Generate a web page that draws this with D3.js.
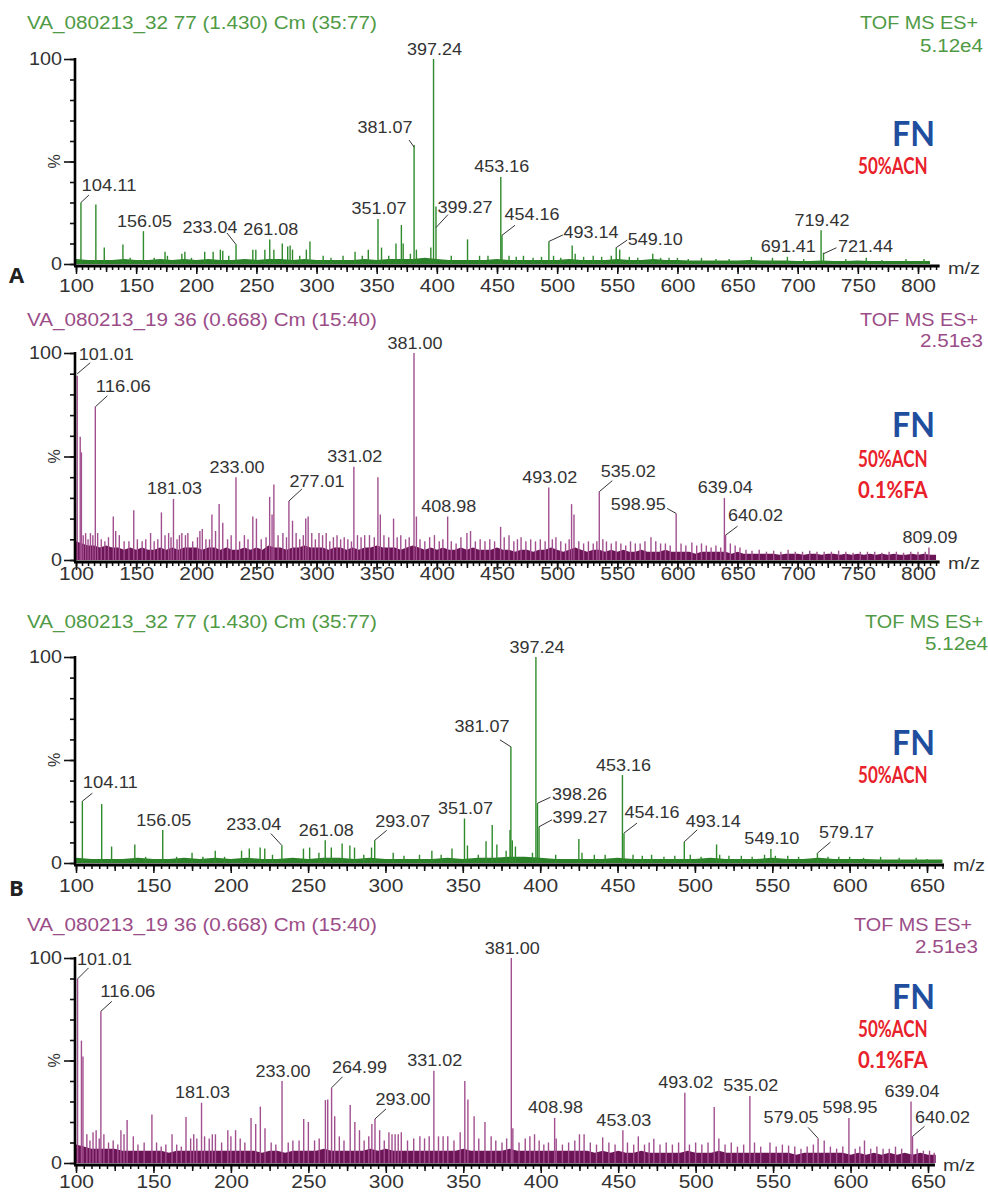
<!DOCTYPE html>
<meta charset="utf-8">
<style>

body {
  margin: 0;
  background: #fff;
}

svg {
  display: block;
  font-family: "Liberation Sans", Arial, sans-serif;
}

.run-title, .scan, .bpi {
  font-size: 17.5px;
}

.peak-label {
  font-size: 16px;
  fill: #333;
}

.tick text {
  font-size: 18px;
  fill: #333;
}

.mz {
  font-size: 16px;
  fill: #333;
}

.sample {
  font-family: Lato, "Open Sans", sans-serif;
  font-weight: bold;
  font-size: 35px;
  fill: #1f4e9f;
}

.cond {
  font-family: Lato, "Open Sans", sans-serif;
  font-weight: bold;
  font-size: 22px;
  fill: #e8212b;
}

.part {
  font-family: "Open Sans", sans-serif;
  font-weight: bold;
  font-size: 22px;
  fill: #222;
}

</style>

<svg width="988" height="1192"></svg>
<script src="https://d3js.org/d3.v7.min.js"></script>
<script>

// ---- text ----
const runGreen = "VA_080213_32 77 (1.430) Cm (35:77)";
const runPurple = "VA_080213_19 36 (0.668) Cm (15:40)";
const scanMode = "TOF MS ES+";
const bpiGreen = "5.12e4";
const bpiPurple = "2.51e3";
const sampleName = "FN";
const condsGreen = ["50%ACN"];
const condsPurple = ["50%ACN", "0.1%FA"];

// ---- axes ----
const ticksA = [100, 150, 200, 250, 300, 350, 400, 450, 500, 550, 600, 650, 700, 750, 800];
const ticksB = [100, 150, 200, 250, 300, 350, 400, 450, 500, 550, 600, 650];
const yLabels = [0, 100];

// ---- labelled peaks: [m/z, %] ----
const peaksA1 = [
  [104.11, 30], [156.05, 16], [233.04, 9.5], [261.08, 12], [351.07, 22], [381.07, 58],
  [397.24, 100], [399.27, 28], [453.16, 42.5], [454.16, 14], [493.14, 11], [549.10, 8],
  [691.41, 3.5], [719.42, 16.5], [721.44, 5.5]
];
const peaksA2 = [
  [101.01, 89], [116.06, 74], [181.03, 29.5], [233.00, 40], [277.01, 28.5], [331.02, 45],
  [381.00, 100], [408.98, 21], [493.02, 35], [535.02, 33], [598.95, 22.5], [639.04, 30],
  [640.02, 12], [809.09, 6]
];
const peaksB1 = [
  [104.11, 30], [156.05, 16], [233.04, 8.5], [261.08, 11], [293.07, 11], [351.07, 21.6],
  [381.07, 56.4], [397.24, 100], [398.26, 29], [399.27, 17.6], [453.16, 42.7], [454.16, 14.5],
  [493.14, 10.3], [549.10, 6.8], [579.17, 4.8]
];
const peaksB2 = [
  [101.01, 89.8], [116.06, 74], [181.03, 29.4], [233.00, 40], [264.99, 36.7], [293.00, 21.5],
  [331.02, 45], [381.00, 100], [408.98, 22], [453.03, 16], [493.02, 34.3], [535.02, 32.7],
  [579.05, 12], [598.95, 22], [639.04, 30], [640.02, 13]
];

// ---- unlabelled peaks: [m/z, %] ----
const minorA1 = [
  [116.5, 29], [123.5, 8], [139, 9.5], [145, 3], [165, 3], [174, 6], [176, 4], [188, 5], [190.5, 6],
  [196, 3], [207, 6], [214, 6], [220, 7], [222, 6.5], [227, 4], [247, 7], [249.5, 7], [257, 7],
  [264.5, 7], [271.5, 10], [276, 8.5], [278, 9], [280, 7], [286, 4], [291.5, 7], [294.5, 11],
  [305.5, 4], [312, 3], [322, 4], [332, 6], [338, 4], [343, 7], [354, 8], [360, 4], [366, 10],
  [370.5, 19], [372, 10], [378, 5], [383, 7], [395, 8], [412, 4], [425.5, 12], [435.5, 4],
  [442.5, 4], [460, 4], [466, 3.5], [472, 4], [480, 3], [487, 3.5], [497, 4], [503, 3],
  [512.5, 9], [515, 5], [522, 3.5], [530, 4], [537, 3.5], [545, 4], [552, 7], [560, 3.5],
  [567, 3], [579.5, 5], [586, 3], [593, 3], [600, 3], [609, 2.5], [620, 3], [632, 2.5],
  [643, 2.5], [661.5, 3.5], [679, 3], [705, 2.5], [740, 2.5], [757, 3], [770, 2], [790, 2.5], [805, 2.5]
];
const minorA2 = [
  [103.5, 59.5], [104.5, 52], [106, 12], [108, 13], [110, 10], [112, 13], [114, 12], [118, 13],
  [121, 10], [124, 9], [127, 11], [131, 21], [133, 14], [136, 12], [140, 9], [144, 9], [148, 24],
  [151, 10], [155, 9], [158, 10], [162, 13], [165, 9], [168, 10], [171, 23], [174, 12], [177, 13],
  [179, 11], [184, 10], [186, 12], [188, 13], [191, 12], [193, 13], [197, 9], [201, 11], [203, 14],
  [205, 15], [208, 10], [211, 10], [213, 22], [216, 14], [219, 27], [222, 18], [226, 10], [229, 12],
  [236, 9], [240, 12], [243, 10], [247, 21], [250, 20], [254, 10], [258, 11], [261, 30.5], [263, 22],
  [264.5, 36.5], [268, 12], [272, 13], [275, 11], [280, 19], [283, 13], [286, 10], [289, 12],
  [291, 20], [293, 21], [296, 13], [299, 10], [302, 13], [305, 12], [308, 13], [311, 9], [314, 11],
  [317, 12], [320, 10], [323, 11], [326, 10], [329, 9], [334, 12], [337, 11], [340, 12], [344, 12],
  [348, 11], [351, 40], [353, 22], [356, 12], [360, 11], [364, 20], [367, 11], [370, 12], [374, 10],
  [377, 11], [383, 21], [386, 10], [390, 9], [394, 11], [398, 12], [402, 9], [405, 10], [412, 9],
  [416, 8], [420, 11], [425, 13], [428, 14], [432, 9], [436, 10], [440, 9], [444, 10], [448, 9],
  [453, 16], [456, 11], [460, 12], [464, 9], [467, 10], [470, 11], [474, 9], [478, 10], [482, 9],
  [486, 10], [490, 9], [496, 10], [499, 11], [503, 9], [507, 8], [510, 10], [512, 27], [514, 22],
  [518, 9], [522, 8], [526, 9], [530, 8], [533, 9], [538, 10], [541, 9], [545, 8], [549, 9],
  [553, 8], [557, 7], [561, 9], [565, 8], [569, 8], [573, 9], [578, 11], [582, 9], [586, 8],
  [590, 8], [594, 7], [603, 8], [607, 7], [612, 8.5], [616, 7], [620, 8], [624, 7], [628, 6],
  [632, 7], [636, 6], [644, 8], [648, 7], [652, 6], [657, 5], [662, 4.5], [668, 5], [674, 4],
  [680, 4.5], [686, 4], [692, 5], [698, 4], [704, 4], [710, 4.5], [716, 4], [722, 4], [728, 4],
  [734, 4.5], [740, 4], [746, 3.5], [752, 4], [758, 4], [764, 4], [770, 3.5], [776, 4], [782, 4],
  [788, 3.5], [794, 4], [800, 4], [806, 4]
];
const minorB1 = [
  [116.6, 28.6], [123, 8], [138, 9], [145, 3], [165, 3], [175, 5], [182, 3], [190, 6], [196, 3],
  [207, 6], [212, 7], [219, 7.5], [222, 7], [227, 4], [247, 7], [251, 7.5], [257, 5], [265, 7.5],
  [272, 9.5], [277, 8.5], [280, 7.5], [286, 4], [291, 7.5], [305, 5], [312, 3.5], [322, 4], [330, 6],
  [336, 4], [343, 7], [353, 8.5], [360, 4], [365, 10.5], [369, 18.5], [372, 9], [378, 6], [380.5, 16],
  [382, 11], [384, 8], [395, 5], [410, 4], [425, 11.6], [427, 5], [435, 4], [442, 4], [460, 4],
  [466, 3.5], [472, 4], [480, 3], [487, 3.5], [497, 4], [504, 3], [514, 9], [516, 4], [522, 3.5],
  [530, 3.5], [537, 3], [545, 4], [552, 3.5], [560, 3.5], [567, 3], [586, 3], [593, 3], [600, 3],
  [609, 2.5], [620, 3], [632, 2.5], [643, 2.5], [650, 2]
];
const minorB2 = [
  [103.5, 59.7], [104.5, 52], [107, 14], [109, 11], [111, 15], [113, 16], [115, 12], [118, 14],
  [121, 10], [124, 11], [127, 9], [129, 16], [131, 14], [133, 21], [137, 13], [140, 9], [144, 10],
  [149, 23.7], [152, 10], [155, 8], [158, 9], [162, 14], [165, 9], [168, 8], [171, 22.4], [174, 12],
  [176, 14], [178, 12], [183, 13], [186, 12], [188, 14], [190, 14], [194, 10], [198, 16], [200, 13],
  [203, 16], [206, 12], [209, 10], [213, 22], [216, 19], [219, 27.5], [222, 17], [226, 10], [229, 9],
  [237, 10], [240, 11], [244, 11], [247, 21.5], [250, 20], [254, 11], [257, 12], [261, 30.7],
  [262.5, 31], [267, 22.8], [270, 13], [273, 11], [277, 28.3], [280, 20], [283, 16], [286, 11],
  [289, 13], [291, 19], [296, 16], [299, 11], [302, 15], [304, 14], [306, 14], [308, 14], [310, 15],
  [314, 11], [318, 12], [322, 13], [325, 12], [328, 13], [334, 13], [337, 13], [340, 13], [344, 11],
  [348, 15], [351, 40], [353, 31], [357, 22.8], [360, 12], [364, 20], [368, 13], [371, 11], [375, 10],
  [378, 12], [382, 17], [386, 10], [390, 12], [393, 13], [396, 14], [399, 11], [402, 9], [405, 10],
  [410, 12], [414, 9], [418, 10], [422, 11], [425, 14], [428, 14], [432, 10], [436, 9], [440, 12.5],
  [444, 10], [448, 9], [456, 10], [460, 9], [463, 13], [467, 9], [470, 10], [473, 11.8], [477, 9],
  [481, 10], [485, 9], [489, 10], [496, 9], [500, 10], [504, 9], [508, 10], [512, 27.3], [515, 12],
  [519, 9], [523, 10], [527, 8], [531, 9], [538, 10], [542, 8], [548, 10], [552, 8], [556, 9],
  [560, 8.5], [564, 8], [568, 7], [572, 8], [576, 9], [583, 11], [587, 8], [591, 7], [595, 8],
  [603, 7], [606, 8], [609, 11], [613, 7], [617, 8], [621, 7], [625, 7], [629, 8], [633, 7],
  [643, 7], [647, 6], [651, 6], [654, 5]
];

// ---- noise floor, % (green: every 10 m/z, purple: every 5 m/z, from 100) ----
const floorA1 = [
  2.5, 2, 2, 2, 2.5, 2, 2, 2.5, 2, 2.5,
  2, 2.5, 2, 2, 2.5, 2, 2.5, 2.5, 2, 2.5,
  2, 2, 2, 2, 2.5, 2, 2.5, 2.5, 2.5, 3,
  2.5, 2, 2, 2, 2, 2.5, 2, 2, 2, 2,
  2, 2.5, 2, 2, 2, 2.5, 2, 2, 2.5, 2,
  2, 1.7, 1.7, 1.7, 1.7, 1.7, 2, 1.7, 1.7, 1.7,
  1.5, 1.5, 1.7, 1.5, 1.5, 1.7, 1.5, 1.5, 1.5, 1.5,
  1.5, 1.5
];
const floorA2 = [
  9, 8, 7, 7, 6, 7, 6, 6, 5, 6,
  5, 6, 5, 5, 6, 5, 6, 5, 6, 6,
  6, 5, 6, 6, 5, 6, 5, 5, 6, 5,
  6, 5, 7, 6, 6, 5, 6, 6, 7, 6,
  6, 6, 5, 6, 6, 5, 6, 5, 6, 6,
  7, 6, 6, 6, 5, 6, 7, 6, 5, 6,
  5, 6, 5, 5, 6, 5, 6, 5, 5, 5,
  6, 5, 5, 4, 5, 5, 4, 5, 5, 6,
  5, 4, 5, 6, 5, 4, 5, 5, 4, 5,
  4, 5, 4, 4, 5, 4, 4, 4, 5, 4,
  4, 4, 4, 3, 4, 4, 4, 4, 4, 3,
  4, 3, 3, 3, 3, 3, 3, 2.5, 3, 3,
  3, 2.5, 3, 3, 2.5, 3, 3, 2.5, 3, 2.5,
  3, 2.5, 3, 2.5, 3, 2.5, 3, 2.5, 2.5, 3,
  2.5, 3, 2.5, 2.5
];
const floorB1 = [
  2.5, 2, 2, 2, 2.5, 2, 2, 2.5, 2, 2.5,
  2, 2.5, 2, 2, 2.5, 2, 2.5, 2.5, 2, 2.5,
  2, 2, 2, 2, 2.5, 2, 2.5, 2.5, 3, 3,
  2.5, 2, 2, 2, 2, 2.5, 2, 2, 2, 2,
  2, 2.5, 2, 2, 2, 2.5, 2, 2, 2.5, 2,
  2, 2, 1.7, 1.7, 1.7, 1.7, 1.7
];
const floorB2 = [
  9, 8, 7, 7, 7, 7, 6, 6, 6, 6,
  6, 6, 5, 6, 6, 6, 6, 6, 6, 6,
  6, 6, 6, 6, 5, 6, 6, 5, 6, 6,
  6, 6, 7, 6, 6, 6, 6, 6, 7, 6,
  7, 6, 6, 6, 6, 6, 6, 6, 6, 6,
  7, 6, 6, 6, 6, 6, 7, 6, 6, 6,
  6, 6, 6, 6, 6, 6, 6, 5, 6, 5,
  6, 5, 5, 6, 5, 5, 5, 5, 5, 6,
  5, 5, 5, 6, 5, 5, 5, 5, 5, 5,
  5, 5, 5, 4, 5, 5, 5, 5, 5, 5,
  4, 5, 4, 5, 4, 5, 4, 5, 4, 5,
  4, 4
];

// ---- label placement (px from the peak top): [text dx, baseline dy, leader start dy, leader end dx, leader end dy] ----
const leadersA1 = {
  "104.11": [28, -12, 0, 8, -7.5], "233.04": [-26, -12, 0, -9, -11.5], "381.07": [-29, -12, 2, -5, -5],
  "399.27": [29, 6, 21, 12, 8], "454.16": [30, -15, 0, 13, -10], "493.14": [42, -3, 0, 14, -6.5],
  "549.10": [39, -3, 0, 11, -7.5], "721.44": [42, -1, 1, 13, -5]
};
const leadersA2 = {
  "101.01": [29, -16, -2, 13, -13], "116.06": [28, -15, 0, 12, -11], "277.01": [28, -14, 0, 13, -12],
  "535.02": [29, -15, 0, 13, -11], "598.95": [-38, -3, 0, -9, -5], "640.02": [30, -14, 0, 12, -9]
};
const leadersB1 = {
  "104.11": [28, -13, 0, 10, -8], "233.04": [-28, -15, 0, -11, -12], "293.07": [28, -13, 0, 12, -10],
  "381.07": [-29, -15, 0, -11, -7], "398.26": [42, -3, 0, 13, -6], "399.27": [41, -4, 0, 13, -7],
  "454.16": [28, -15, 0, 13, -10], "493.14": [29, -15, 0, 13, -12], "579.17": [29, -15, 0, 13, -11]
};
const leadersB2 = {
  "101.01": [27, -14, 0, 11, -11], "116.06": [27, -14, 0, 11, -10], "264.99": [28, -15, 0, 11, -11],
  "293.00": [28, -14, 0, 11, -10], "579.05": [-27, -15, 0, -10, -11], "640.02": [30, -13, 0, 12, -10]
};

const green = { text: "#4f9a45", line: "#2f8a2b", fill: "#2b8128" };
const purple = { text: "#9b4d88", line: "#a24f8f", fill: "#6b1456" };

const panels = [
  { run: runGreen, bpi: bpiGreen, conds: condsGreen, part: "A", col: green,
    peaks: peaksA1, minor: minorA1, floor: floorA1, floorStep: 10, leaders: leadersA1,
    ticks: ticksA, xRange: [76, 918], xEnd: 818, top: 59, base: 264,
    titleY: 29, bpiY: 52, scanRight: 978, bpiRight: 983, tickY: 292, mzX: 948, mzY: 274,
    fnY: 146, condY: [174], partY: 283 },
  { run: runPurple, bpi: bpiPurple, conds: condsPurple, part: null, col: purple,
    peaks: peaksA2, minor: minorA2, floor: floorA2, floorStep: 5, leaders: leadersA2,
    ticks: ticksA, xRange: [76, 918], xEnd: 818, top: 353, base: 560,
    titleY: 326, bpiY: 347, scanRight: 978, bpiRight: 983, tickY: 580, mzX: 948, mzY: 569,
    fnY: 437, condY: [467, 498] },
  { run: runGreen, bpi: bpiGreen, conds: condsGreen, part: "B", col: green,
    peaks: peaksB1, minor: minorB1, floor: floorB1, floorStep: 10, leaders: leadersB1,
    ticks: ticksB, xRange: [76, 927], xEnd: 661, top: 657, base: 863,
    titleY: 628, bpiY: 650, scanRight: 983, bpiRight: 988, tickY: 892, mzX: 953, mzY: 871,
    fnY: 755, condY: [783], partY: 896 },
  { run: runPurple, bpi: bpiPurple, conds: condsPurple, part: null, col: purple,
    peaks: peaksB2, minor: minorB2, floor: floorB2, floorStep: 5, leaders: leadersB2,
    ticks: ticksB, xRange: [76, 928], xEnd: 654.5, top: 958, base: 1163,
    titleY: 931, bpiY: 953, scanRight: 972, bpiRight: 978, tickY: 1188, mzX: 943, mzY: 1171,
    fnY: 1009, condY: [1037, 1068] }
];

const svg = d3.select("svg");
const fmt = d => d.toFixed(2);

function drawPanel(p) {
  const g = svg.append("g");
  const x = d3.scaleLinear()
    .domain([p.ticks[0], p.ticks[p.ticks.length - 1]])
    .range(p.xRange);
  const y = d3.scaleLinear().domain([0, 100]).range([p.base, p.top]);

  // header
  g.append("text").attr("class", "run-title")
    .attr("x", 27).attr("y", p.titleY)
    .attr("fill", p.col.text)
    .attr("textLength", 350).attr("lengthAdjust", "spacingAndGlyphs")
    .text(p.run);
  g.append("text").attr("class", "scan")
    .attr("x", p.scanRight).attr("y", p.titleY)
    .attr("text-anchor", "end").attr("fill", p.col.text)
    .attr("textLength", 118).attr("lengthAdjust", "spacingAndGlyphs")
    .text(scanMode);
  g.append("text").attr("class", "bpi")
    .attr("x", p.bpiRight).attr("y", p.bpiY)
    .attr("text-anchor", "end").attr("fill", p.col.text)
    .attr("textLength", 63).attr("lengthAdjust", "spacingAndGlyphs")
    .text(p.bpi);

  // noise floor
  const floorPts = p.floor.map((v, i) => [p.ticks[0] + i * p.floorStep, v]);
  g.append("path")
    .datum(floorPts)
    .attr("fill", p.col.fill)
    .attr("d", d3.area()
      .x(d => x(d[0]))
      .y0(y(0))
      .y1(d => y(d[1])));

  // peaks
  const sticks = p.minor.concat(p.peaks);
  g.append("g")
    .selectAll("line")
    .data(sticks)
    .join("line")
      .attr("x1", d => x(d[0]))
      .attr("x2", d => x(d[0]))
      .attr("y1", y(0))
      .attr("y2", d => y(d[1]))
      .attr("stroke", p.col.line)
      .attr("stroke-width", 1.4);

  // peak labels
  const lab = g.append("g");
  p.peaks.forEach(d => {
    const txt = fmt(d[0]);
    const px = x(d[0]), pt = y(d[1]);
    const L = p.leaders[txt];
    if (L) {
      lab.append("line")
        .attr("x1", px).attr("y1", pt + L[2])
        .attr("x2", px + L[3]).attr("y2", pt + L[4])
        .attr("stroke", "#333").attr("stroke-width", 1);
    }
    lab.append("text").attr("class", "peak-label")
      .attr("x", px + (L ? L[0] : 1))
      .attr("y", pt + (L ? L[1] : -4.5))
      .attr("text-anchor", "middle")
      .attr("textLength", 55).attr("lengthAdjust", "spacingAndGlyphs")
      .text(txt);
  });

  // y axis
  const ya = g.append("g").attr("transform", "translate(75,0)");
  ya.append("g")
    .call(d3.axisLeft(y).tickValues(d3.range(0, 101, 10)).tickSize(5).tickFormat(""))
    .call(s => s.select(".domain").remove());
  ya.append("g")
    .call(d3.axisLeft(y).tickValues([0, 50, 100]).tickSize(11).tickFormat(""))
    .call(s => s.select(".domain").remove());
  ya.append("g")
    .call(d3.axisLeft(y).tickValues(yLabels).tickSize(0).tickPadding(13))
    .call(s => s.select(".domain").remove())
    .call(s => s.selectAll("text")
      .attr("textLength", d => String(d).length * 11)
      .attr("lengthAdjust", "spacingAndGlyphs"));
  ya.selectAll("line").attr("stroke", "#111").attr("stroke-width", 1.6);
  ya.append("line")
    .attr("x1", 0).attr("x2", 0).attr("y1", p.top - 1).attr("y2", p.base + 2)
    .attr("stroke", "#000").attr("stroke-width", 2.6);
  g.append("text")
    .attr("transform", `translate(60,${y(50)}) rotate(-90)`)
    .attr("text-anchor", "middle")
    .attr("font-size", 16).attr("fill", "#333")
    .text("%");

  // x axis
  const xa = g.append("g").attr("transform", `translate(0,${p.base + 1})`);
  const xMax = p.xEnd;
  xa.append("g")
    .call(d3.axisBottom(x).tickValues(d3.range(p.ticks[0], xMax, 5)).tickSize(5).tickFormat(""))
    .call(s => s.select(".domain").remove());
  xa.append("g")
    .call(d3.axisBottom(x).tickValues(d3.range(p.ticks[0], xMax, 25)).tickSize(7).tickFormat(""))
    .call(s => s.select(".domain").remove());
  xa.append("g")
    .call(d3.axisBottom(x).tickValues(p.ticks).tickSize(9))
    .call(s => s.select(".domain").remove())
    .call(s => s.selectAll("text")
      .attr("y", p.tickY - p.base - 1).attr("dy", null)
      .attr("textLength", 35).attr("lengthAdjust", "spacingAndGlyphs"));
  xa.selectAll("line").attr("stroke", "#111").attr("stroke-width", 1.5);
  xa.append("line")
    .attr("x1", 74).attr("x2", x(xMax))
    .attr("y1", 1).attr("y2", 1)
    .attr("stroke", "#000").attr("stroke-width", 3.2);
  g.append("text").attr("class", "mz")
    .attr("x", p.mzX).attr("y", p.mzY)
    .attr("textLength", 32).attr("lengthAdjust", "spacingAndGlyphs")
    .text("m/z");

  // sample annotation
  g.append("text").attr("class", "sample")
    .attr("x", 913.5).attr("y", p.fnY)
    .attr("text-anchor", "middle")
    .attr("textLength", 43).attr("lengthAdjust", "spacingAndGlyphs")
    .text(sampleName);
  p.conds.forEach((c, i) => {
    g.append("text").attr("class", "cond")
      .attr("x", 858).attr("y", p.condY[i])
      .attr("textLength", c.length * 11.6).attr("lengthAdjust", "spacingAndGlyphs")
      .text(c);
  });

  if (p.part) {
    g.append("text").attr("class", "part")
      .attr("x", 9).attr("y", p.partY)
      .text(p.part);
  }
}

panels.forEach(drawPanel);

</script>
